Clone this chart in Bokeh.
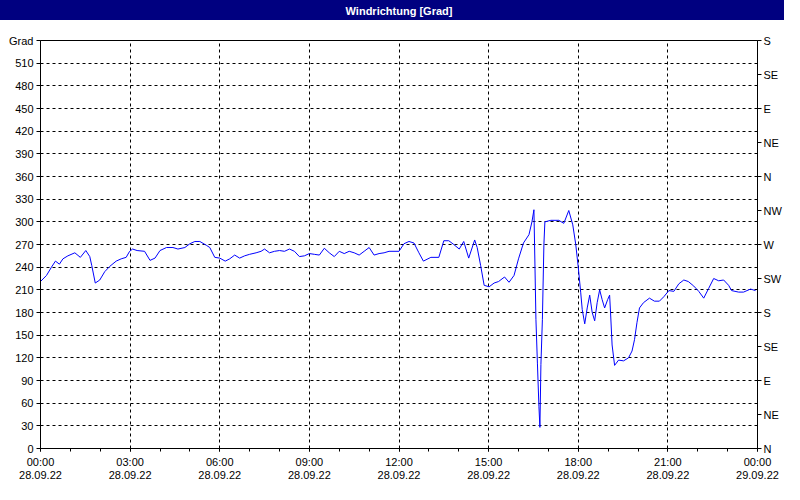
from bokeh.plotting import figure
from bokeh.layouts import column
from bokeh.models import Range1d, LinearAxis, FixedTicker
from bokeh.core.properties import value
from bokeh.embed import file_html
from bokeh.resources import INLINE

# --- data: minutes after 28.09.22 00:00, wind direction in degrees ---
minutes = [0, 12, 22, 30, 38, 45, 55, 69, 80, 91, 99, 103, 110, 119, 129, 139, 152, 162, 172, 179,
           185, 194, 209, 220, 230, 240, 253, 266, 276, 290, 300, 310, 320, 333, 340, 350, 360, 371,
           380, 390, 400, 410, 420, 433, 443, 450, 460, 470, 480, 490, 500, 510, 520, 530, 540, 550,
           560, 570, 580, 590, 600, 610, 620, 630, 640, 650, 660, 670, 680, 690, 700, 720, 730, 740,
           750, 760, 769, 784, 800, 810, 820, 830, 841, 850, 860, 872, 877, 884, 891, 901, 911, 920,
           932, 941, 951, 960, 970, 981, 987, 991, 995, 998, 1001, 1003, 1005, 1008, 1011, 1013, 1025,
           1041, 1051, 1061, 1069, 1075, 1080, 1085, 1088, 1093, 1098, 1103, 1108, 1113, 1118, 1123,
           1128, 1133, 1139, 1143, 1145, 1148, 1153, 1161, 1171, 1181, 1188, 1193, 1198, 1203, 1211,
           1223, 1233, 1243, 1252, 1262, 1272, 1282, 1292, 1301, 1312, 1322, 1332, 1342, 1352, 1362,
           1372, 1382, 1388, 1402, 1412, 1426, 1436]
degrees = [221, 229, 240, 248, 244, 251, 255, 259, 253, 262, 254, 242, 219, 223, 234, 241, 248, 251, 253, 261,
           264, 262, 261, 249, 252, 262, 266, 266, 264, 266, 271, 274, 274, 269, 266, 253, 252, 248,
           251, 256, 252, 255, 257, 259, 261, 264, 259, 261, 262, 261, 264, 261, 254, 255, 258, 257,
           256, 265, 259, 254, 261, 258, 261, 259, 256, 261, 266, 256, 258, 259, 261, 261, 271, 274,
           272, 259, 248, 253, 253, 275, 275, 270, 264, 274, 252, 276, 266, 242, 216, 214, 219, 221,
           227, 220, 229, 251, 272, 283, 300, 316, 171, 113, 56, 28, 111, 171, 270, 300, 302,
           302, 298, 315, 296, 270, 240, 206, 184, 165, 186, 203, 180, 169, 193, 210,
           197, 186, 197, 203, 178, 137, 110, 117, 116, 120, 129, 144, 167, 186, 193,
           199, 195, 195, 201, 209, 208, 218, 223, 221, 215, 208, 199, 212, 225, 222,
           223, 216, 209, 207, 207, 211, 209]

hour_ticks = [0, 3, 6, 9, 12, 15, 18, 21, 24]
time_labels = ["00:00", "03:00", "06:00", "09:00", "12:00", "15:00", "18:00", "21:00", "00:00"]
date_labels = ["28.09.22"] * 8 + ["29.09.22"]
grad_ticks = list(range(0, 541, 30))
dir_ticks = list(range(0, 541, 45))
dir_labels = ["N", "NE", "E", "SE", "S", "SW", "W", "NW", "N", "NE", "E", "SE", "S"]
title_text = "Windrichtung [Grad]"

hours = [m / 60 for m in minutes]

FONT = "Liberation Sans"
NAVY = "#000080"
W = 784
TH = 20            # title bar height
H = 464            # main figure height
BL, BR, BT, BB = 40, 25, 20, 36

# ---- title bar ----
t = figure(width=W, height=TH, output_backend="svg", toolbar_location=None,
           x_range=Range1d(0, 1), y_range=Range1d(0, 1),
           x_axis_location=None, y_axis_location=None,
           min_border=0, min_border_left=0, min_border_right=0, min_border_top=0, min_border_bottom=0,
           styles={"background-color": NAVY})
t.background_fill_color = NAVY
t.border_fill_color = NAVY
t.border_fill_alpha = 1.0
t.outline_line_color = None
t.grid.visible = False
t.text(x=[0.5], y=[0.5], text=[title_text], text_color="white",
       text_font=value(FONT), text_font_style="bold", text_font_size="11px",
       text_align="center", text_baseline="middle")

# ---- main chart ----
p = figure(width=W, height=H, output_backend="svg", toolbar_location=None,
           x_range=Range1d(0, 24), y_range=Range1d(0, 540),
           min_border_left=BL, min_border_right=BR, min_border_top=BT, min_border_bottom=BB)
p.background_fill_color = "white"
p.border_fill_color = "white"
p.outline_line_color = "black"
p.outline_line_width = 1

# bottom time axis
xa = p.xaxis[0]
xa.ticker = FixedTicker(ticks=hour_ticks, minor_ticks=list(range(25)))
xa.major_label_overrides = {k: l for k, l in zip(hour_ticks, time_labels)}
xa.major_tick_out = 3
xa.major_tick_in = 0
xa.minor_tick_out = 3
xa.minor_tick_in = 0
xa.major_label_standoff = 4

# date axis below
da = LinearAxis(ticker=FixedTicker(ticks=hour_ticks),
                major_label_overrides={k: l for k, l in zip(hour_ticks, date_labels)},
                axis_line_color=None, major_tick_line_color=None, minor_tick_line_color=None,
                major_tick_out=0, minor_tick_out=0, major_label_standoff=0)
p.add_layout(da, "below")

# left degree axis
ya = p.yaxis[0]
ya.ticker = FixedTicker(ticks=grad_ticks)
ya.major_label_overrides = {540: "Grad"}
ya.major_tick_out = 4
ya.major_tick_in = 0
ya.minor_tick_line_color = None
ya.major_label_standoff = 3

# right compass axis
p.extra_y_ranges = {"dir": Range1d(0, 540)}
ra = LinearAxis(y_range_name="dir", ticker=FixedTicker(ticks=dir_ticks),
                major_label_overrides={k: l for k, l in zip(dir_ticks, dir_labels)},
                major_tick_out=4, major_tick_in=0, minor_tick_line_color=None,
                major_label_standoff=2)
p.add_layout(ra, "right")

for ax in [xa, da, ya, ra]:
    ax.major_label_text_font = FONT
    ax.major_label_text_font_size = "11px"
    ax.major_label_text_color = "black"
    if ax is not da:
        ax.axis_line_color = "black"
        ax.major_tick_line_color = "black"

for g in [p.xgrid[0], p.ygrid[0]]:
    g.grid_line_color = "black"
    g.grid_line_dash = "3 3"
    g.grid_line_width = 1

p.line(hours, degrees, line_color="#0000FF", line_width=1)

layout = column(t, p, spacing=0)
open("out.html", "w").write(file_html(layout, INLINE))
